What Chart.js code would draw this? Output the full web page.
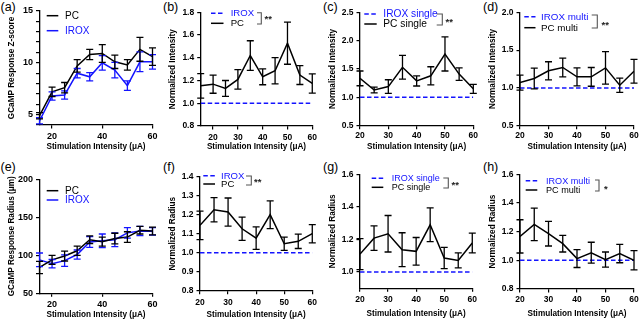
<!DOCTYPE html>
<html><head><meta charset="utf-8">
<script src="https://cdn.jsdelivr.net/npm/chart.js@4/dist/chart.umd.min.js"></script>
<style>
html,body{margin:0;padding:0;background:#fff;}
#wrap{position:relative;width:641px;height:321px;overflow:hidden;font-family:"Liberation Sans",Arial,sans-serif;}
canvas{position:absolute;}
.lbl{position:absolute;font-size:12.5px;line-height:1;color:#000;white-space:nowrap;}
</style></head><body>
<div id="wrap">
<div class="lbl" style="left:0.5px;top:1px">(a)</div>
<div class="lbl" style="left:163px;top:0.5px">(b)</div>
<div class="lbl" style="left:323px;top:0.5px">(c)</div>
<div class="lbl" style="left:483px;top:1px">(d)</div>
<div class="lbl" style="left:0.5px;top:161px">(e)</div>
<div class="lbl" style="left:163px;top:161px">(f)</div>
<div class="lbl" style="left:323px;top:160.5px">(g)</div>
<div class="lbl" style="left:483px;top:160.5px">(h)</div>
</div>
<script>
// ---------- DATA ----------
const stim15 = [15, 20, 25, 30, 35, 40, 45, 50, 55, 60];
const stim20 = [20, 25, 30, 35, 40, 45, 50, 55, 60];

// (a) GCaMP response z-score
const zscorePC = [4.9, 7.2, 7.6, 9.7, 10.8, 10.9, 10.1, 9.8, 11.3, 10.6];
const zscorePCErr = [0.3, 0.45, 0.5, 0.6, 0.5, 0.85, 0.65, 0.5, 1.15, 0.85];
const zscoreIROX = [4.4, 6.8, 6.9, 9.0, 8.65, 10.0, 9.3, 7.8, 10.1, 10.1];
const zscoreIROXErr = [0.3, 0.4, 0.4, 0.45, 0.4, 0.7, 0.75, 0.45, 0.95, 0.7];

// (b) normalized intensity
const intensityPC = [1.153, 1.168, 1.13, 1.21, 1.42, 1.233, 1.286, 1.528, 1.248, 1.174];
const intensityPCErr = [0.107, 0.08, 0.07, 0.085, 0.13, 0.07, 0.115, 0.185, 0.083, 0.085];
const intensityIROX = [1, 1, 1, 1, 1, 1, 1, 1, 1, 1];

// (c) normalized intensity, single
const intensitySinglePC = [1.335, 1.13, 1.19, 1.53, 1.29, 1.38, 1.765, 1.41, 1.15];
const intensitySinglePCErr = [0.13, 0.05, 0.12, 0.21, 0.09, 0.16, 0.3, 0.11, 0.08];
const intensitySingleIROX = [1, 1, 1, 1, 1, 1, 1, 1, 1];

// (d) normalized intensity, multi
const intensityMultiPC = [1.07, 1.124, 1.226, 1.27, 1.146, 1.146, 1.265, 1.035, 1.22];
const intensityMultiPCErr = [0.1, 0.137, 0.12, 0.125, 0.12, 0.124, 0.215, 0.093, 0.157];
const intensityMultiIROX = [1, 1, 1, 1, 1, 1, 1, 1, 1];

// (e) GCaMP response radius (um)
const radiusPC = [84, 94, 99, 106, 120.5, 118, 122, 124, 133, 132];
const radiusPCErr = [8, 6, 6.5, 6, 5, 6, 7, 7, 5, 5];
const radiusIROX = [94, 89, 93, 101, 117.5, 119, 120.5, 129.5, 132, 131.5];
const radiusIROXErr = [9, 5.5, 7.5, 6, 7, 9, 9, 7, 6, 5];

// (f) normalized radius
const radiusNormPC = [1.144, 1.226, 1.214, 1.126, 1.077, 1.2, 1.047, 1.06, 1.1];
const radiusNormPCErr = [0.075, 0.064, 0.074, 0.061, 0.059, 0.073, 0.035, 0.038, 0.048];
const radiusNormIROX = [1, 1, 1, 1, 1, 1, 1, 1, 1];

// (g) normalized radius, single
const radiusSinglePC = [1.11, 1.208, 1.235, 1.137, 1.127, 1.29, 1.086, 1.071, 1.178];
const radiusSinglePCErr = [0.095, 0.075, 0.112, 0.104, 0.085, 0.104, 0.065, 0.046, 0.061];
const radiusSingleIROX = [1, 1, 1, 1, 1, 1, 1, 1, 1];

// (h) normalized radius, multi
const radiusMultiPC = [1.167, 1.251, 1.186, 1.116, 1.012, 1.053, 1.005, 1.047, 1.0];
const radiusMultiPCErr = [0.116, 0.113, 0.086, 0.058, 0.062, 0.073, 0.053, 0.064, 0.067];
const radiusMultiIROX = [1, 1, 1, 1, 1, 1, 1, 1, 1];

// tick values / labels
const xTicksAE = [20, 40, 60];
const xTicksB = [20, 30, 40, 50, 60];
const xTicks20 = [20, 30, 40, 50, 60];
const yTicksA = [4, 5, 6, 7, 8, 9, 10, 11, 12, 13, 14, 15];
const yLabelsA = [5, 10, 15];
const yTicksB = [0.8, 1.0, 1.2, 1.4, 1.6, 1.8];
const yTicksC = [0.5, 1.0, 1.5, 2.0, 2.5];
const yTicksD = [0.5, 1.0, 1.5, 2.0];
const yTicksE = [50, 100, 150, 200];
const yTicksF = [0.8, 0.9, 1.0, 1.1, 1.2, 1.3, 1.4];
const yTicksG = [1.0, 1.2, 1.4, 1.6];
const yTicksH = [0.8, 1.0, 1.2, 1.4, 1.6];

const xTitle = 'Stimulation Intensity (\u03bcA)';

// ---------- RENDER ----------
const FONT = '"Liberation Sans", Arial, sans-serif';
Chart.defaults.font.family = FONT;
Chart.defaults.color = '#000';
const BLUE = '#1414ff';
const wrap = document.getElementById('wrap');
const pts = (xs, ys) => xs.map((x, i) => ({x: x, y: ys[i]}));

const errorBars = {
  id: 'errorBars',
  afterDatasetsDraw(chart) {
    const ctx = chart.ctx, ys = chart.scales.y;
    chart.data.datasets.slice().reverse().forEach((ds) => {
      if (!ds.errors) return;
      const i = chart.data.datasets.indexOf(ds);
      const meta = chart.getDatasetMeta(i);
      ctx.save();
      ctx.strokeStyle = ds.borderColor; ctx.lineWidth = 1.3; ctx.setLineDash([]);
      meta.data.forEach((pt, j) => {
        const v = ds.data[j].y, e = ds.errors[j];
        const yt = ys.getPixelForValue(v + e), yb = ys.getPixelForValue(v - e), x = pt.x;
        ctx.beginPath();
        ctx.moveTo(x, yt); ctx.lineTo(x, yb);
        ctx.moveTo(x - 3.5, yt); ctx.lineTo(x + 3.5, yt);
        ctx.moveTo(x - 3.5, yb); ctx.lineTo(x + 3.5, yb);
        ctx.stroke();
      });
      ctx.restore();
    });
  }
};

function legendPlugin(p) {
  return {
    id: 'customLegend',
    afterDraw(chart) {
      const ctx = chart.ctx, L = p.legend, ox = p.left, oy = p.top;
      ctx.save();
      L.items.forEach(it => {
        const ds = chart.data.datasets[it.ds];
        ctx.strokeStyle = ds.borderColor; ctx.lineWidth = 1.5;
        ctx.setLineDash(ds.borderDash || []);
        ctx.beginPath(); ctx.moveTo(it.x0 - ox, it.y - oy); ctx.lineTo(it.x1 - ox, it.y - oy); ctx.stroke();
        ctx.setLineDash([]);
        ctx.fillStyle = ds.borderColor;
        ctx.font = (L.size || 9.8) + 'px ' + FONT;
        ctx.textBaseline = 'middle'; ctx.textAlign = 'left';
        ctx.fillText(ds.label, it.tx - ox, it.y - oy + 0.5);
      });
      if (L.bracket) {
        const b = L.bracket;
        ctx.strokeStyle = '#555'; ctx.lineWidth = 1.1;
        ctx.beginPath();
        ctx.moveTo(b.x0 - ox, b.y0 - oy); ctx.lineTo(b.x1 - ox, b.y0 - oy);
        ctx.lineTo(b.x1 - ox, b.y1 - oy); ctx.lineTo(b.x0 - ox, b.y1 - oy);
        ctx.stroke();
        ctx.fillStyle = '#222';
        ctx.font = 'bold 9.5px ' + FONT;
        ctx.textBaseline = 'alphabetic';
        ctx.fillText(b.star, b.sx - ox, b.sy - oy + 5.5);
      }
      ctx.restore();
    }
  };
}

const fmt1 = v => v.toFixed(1);
const fmt0 = v => String(v);

function makeChart(p) {
  const cv = document.createElement('canvas');
  cv.width = p.w; cv.height = p.h;
  cv.style.left = p.left + 'px'; cv.style.top = p.top + 'px';
  cv.style.width = p.w + 'px'; cv.style.height = p.h + 'px';
  wrap.appendChild(cv);
  const [ax0, ay0, ax1, ay1] = p.area;
  const yW = ax0 - p.left, xH = p.top + p.h - ay1;
  const tf = p.tickFont || 8.5;
  new Chart(cv, {
    type: 'line',
    data: {datasets: p.datasets},
    options: {
      responsive: false, animation: false, devicePixelRatio: 1,
      layout: {padding: {top: ay0 - p.top, right: p.left + p.w - ax1, left: 0, bottom: 0}},
      plugins: {legend: {display: false}, tooltip: {enabled: false}},
      elements: {point: {radius: 0, hoverRadius: 0}, line: {tension: 0, borderWidth: 1.5}},
      scales: {
        x: {
          type: 'linear', min: p.x.min, max: p.x.max,
          afterFit: s => { s.height = xH; },
          afterBuildTicks: s => { s.ticks = p.x.ticks.map(v => ({value: v})); },
          ticks: {autoSkip: false, maxRotation: 0, padding: p.xPad, font: {size: tf, weight: 'bold'}, color: '#000',
                  callback: v => String(v)},
          grid: {drawOnChartArea: false, drawTicks: true, tickLength: 3.5, color: '#000', lineWidth: 1.2},
          border: {color: '#000', width: 1.3},
          title: {display: true, text: xTitle, font: {size: 8.2, weight: 'bold'}, color: '#000', padding: {top: 0, bottom: p.xTitlePad}}
        },
        y: {
          type: 'linear', min: p.y.min, max: p.y.max,
          afterFit: s => { s.width = yW; },
          afterBuildTicks: s => { s.ticks = p.y.ticks.map(v => ({value: v})); },
          ticks: {autoSkip: false, padding: 3, font: {size: tf, weight: 'bold'}, color: '#000',
                  callback: v => (p.y.labels ? (p.y.labels.includes(v) ? p.y.fmt(v) : '') : p.y.fmt(v))},
          grid: {drawOnChartArea: false, drawTicks: true, tickLength: 3.5, color: '#000', lineWidth: 1.2},
          border: {color: '#000', width: 1.3},
          title: {display: true, text: p.yTitle, font: {size: 8.2, weight: 'bold'}, color: '#000', padding: {top: p.yTitlePad, bottom: 0}}
        }
      }
    },
    plugins: [errorBars, legendPlugin(p)]
  });
}

const pcSet = (label, xs, ys, err) => ({label: label, data: pts(xs, ys), errors: err, borderColor: '#000', borderWidth: 1.5, fill: false});
const iroxSet = (label, xs, ys, err) => ({label: label, data: pts(xs, ys), errors: err, borderColor: BLUE, borderWidth: 1.5, fill: false});
const iroxBase = (label, xs, ys) => ({label: label, data: pts(xs, ys), borderColor: BLUE, borderWidth: 1.5, borderDash: [4.5, 2.5], fill: false});

const panels = [
  {left: 0, top: 0, w: 160, h: 160, area: [39.5, 11, 153, 125], tickFont: 9,
   x: {min: 15, max: 60, ticks: xTicksAE}, y: {min: 4, max: 15, ticks: yTicksA, labels: yLabelsA, fmt: fmt0},
   yTitle: 'GCaMP Response Z-score', xPad: 2.5, xTitlePad: 8.3, yTitlePad: 6.8,
   datasets: [pcSet('PC', stim15, zscorePC, zscorePCErr), iroxSet('IROX', stim15, zscoreIROX, zscoreIROXErr)],
   legend: {size: 10, items: [{ds: 0, x0: 46.7, x1: 58.3, y: 15.7, tx: 65}, {ds: 1, x0: 46.7, x1: 58.3, y: 30.7, tx: 65}]}},
  {left: 160, top: 0, w: 160, h: 160, area: [200.7, 12.3, 314, 126],
   x: {min: 15, max: 60, ticks: xTicksB}, y: {min: 0.8, max: 1.8, ticks: yTicksB, fmt: fmt1},
   yTitle: 'Normalized Intensity', xPad: 3, xTitlePad: 8.3, yTitlePad: 8.3,
   datasets: [pcSet('PC', stim15, intensityPC, intensityPCErr), iroxBase('IROX', stim15, intensityIROX)],
   legend: {size: 9.6, items: [{ds: 1, x0: 211, x1: 223.5, y: 13.3, tx: 230.7}, {ds: 0, x0: 211, x1: 223.5, y: 23.3, tx: 230.7}],
            bracket: {x0: 257, x1: 261.3, y0: 12.7, y1: 24, star: '**', sx: 264.5, sy: 16.7}}},
  {left: 320, top: 0, w: 160, h: 160, area: [360, 12.3, 473.3, 125.7],
   x: {min: 20, max: 60, ticks: xTicks20}, y: {min: 0.5, max: 2.5, ticks: yTicksC, fmt: fmt1},
   yTitle: 'Normalized Intensity', xPad: 1, xTitlePad: 8.3, yTitlePad: 8.3,
   datasets: [pcSet('PC single', stim20, intensitySinglePC, intensitySinglePCErr), iroxBase('IROX single', stim20, intensitySingleIROX)],
   legend: {size: 10.2, items: [{ds: 1, x0: 364.3, x1: 376.7, y: 14, tx: 383.3}, {ds: 0, x0: 364.3, x1: 376.7, y: 24, tx: 383.3}],
            bracket: {x0: 436.7, x1: 442.3, y0: 14, y1: 25, star: '**', sx: 445.5, sy: 19}}},
  {left: 480, top: 0, w: 161, h: 160, area: [520, 12.3, 634, 125.7],
   x: {min: 20, max: 60, ticks: xTicks20}, y: {min: 0.5, max: 2.0, ticks: yTicksD, fmt: fmt1},
   yTitle: 'Normalized Intensity', xPad: 1, xTitlePad: 8.3, yTitlePad: 8.3,
   datasets: [pcSet('PC multi', stim20, intensityMultiPC, intensityMultiPCErr), iroxBase('IROX multi', stim20, intensityMultiIROX)],
   legend: {size: 9.8, items: [{ds: 1, x0: 524.3, x1: 535.5, y: 16.7, tx: 541}, {ds: 0, x0: 524.3, x1: 535.5, y: 27.7, tx: 541}],
            bracket: {x0: 591.7, x1: 597.3, y0: 15, y1: 28, star: '**', sx: 601.5, sy: 22}}},
  {left: 0, top: 160, w: 160, h: 161, area: [39.5, 179.3, 153, 293.3], tickFont: 9,
   x: {min: 15, max: 60, ticks: xTicksAE}, y: {min: 50, max: 200, ticks: yTicksE, fmt: fmt0},
   yTitle: 'GCaMP Response Radius (\u03bcm)', xPad: 2.5, xTitlePad: 1, yTitlePad: 6.8,
   datasets: [pcSet('PC', stim15, radiusPC, radiusPCErr), iroxSet('IROX', stim15, radiusIROX, radiusIROXErr)],
   legend: {size: 10, items: [{ds: 0, x0: 46.7, x1: 58.3, y: 190.7, tx: 65}, {ds: 1, x0: 46.7, x1: 58.3, y: 200, tx: 65}]}},
  {left: 160, top: 160, w: 160, h: 161, area: [200, 176.7, 314, 290.7],
   x: {min: 20, max: 60, ticks: xTicks20}, y: {min: 0.8, max: 1.4, ticks: yTicksF, fmt: fmt1},
   yTitle: 'Normalized Radius', xPad: 3, xTitlePad: 1.7, yTitlePad: 8.3,
   datasets: [pcSet('PC', stim20, radiusNormPC, radiusNormPCErr), iroxBase('IROX', stim20, radiusNormIROX)],
   legend: {size: 9.6, items: [{ds: 1, x0: 203.3, x1: 215, y: 175.7, tx: 221}, {ds: 0, x0: 203.3, x1: 215, y: 184, tx: 221}],
            bracket: {x0: 246, x1: 251.3, y0: 176, y1: 185, star: '**', sx: 254, sy: 179}}},
  {left: 320, top: 160, w: 160, h: 161, area: [360, 174.3, 474, 288.3],
   x: {min: 20, max: 60, ticks: xTicks20}, y: {min: 0.9, max: 1.6, ticks: yTicksG, fmt: fmt1},
   yTitle: 'Normalized Radius', xPad: 3, xTitlePad: 2.7, yTitlePad: 8.3,
   datasets: [pcSet('PC single', stim20, radiusSinglePC, radiusSinglePCErr), iroxBase('IROX single', stim20, radiusSingleIROX)],
   legend: {size: 9, items: [{ds: 1, x0: 371.7, x1: 383.3, y: 178.3, tx: 391.7}, {ds: 0, x0: 371.7, x1: 383.3, y: 187.3, tx: 391.7}],
            bracket: {x0: 443.3, x1: 448.3, y0: 178, y1: 188, star: '**', sx: 451.5, sy: 182}}},
  {left: 480, top: 160, w: 161, h: 161, area: [520, 174.3, 634, 289],
   x: {min: 20, max: 60, ticks: xTicks20}, y: {min: 0.8, max: 1.6, ticks: yTicksH, fmt: fmt1},
   yTitle: 'Normalized Radius', xPad: 2, xTitlePad: 2.7, yTitlePad: 8.3,
   datasets: [pcSet('PC multi', stim20, radiusMultiPC, radiusMultiPCErr), iroxBase('IROX multi', stim20, radiusMultiIROX)],
   legend: {size: 9.1, items: [{ds: 1, x0: 525.7, x1: 537.3, y: 180.7, tx: 546}, {ds: 0, x0: 525.7, x1: 537.3, y: 190, tx: 546}],
            bracket: {x0: 595, x1: 599, y0: 180, y1: 191, star: '*', sx: 604, sy: 186}}}
];

panels.forEach(makeChart);
</script>
</body></html>
